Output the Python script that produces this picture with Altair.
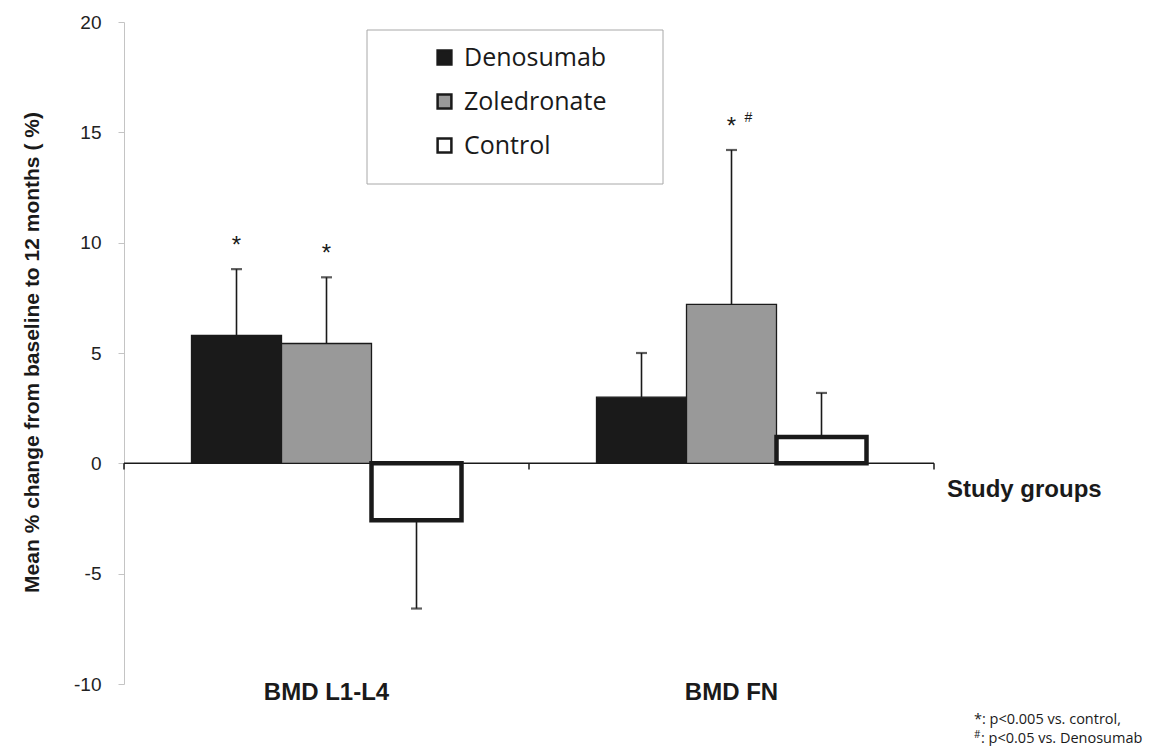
import altair as alt
import pandas as pd

groups = ["BMD L1-L4", "BMD FN"]
series = ["Denosumab", "Zoledronate", "Control"]
mean_l1l4 = [5.8, 5.43, -2.58]
mean_fn = [3.0, 7.2, 1.19]
sd_l1l4 = [3.0, 3.0, 4.0]
sd_fn = [2.0, 7.0, 2.0]
star_l1l4 = ["*", "*", ""]
star_fn = ["", "*", ""]
hash_l1l4 = ["", "", ""]
hash_fn = ["", "#", ""]
fills = ["#1a1a1a", "#999999", "#ffffff"]
y_ticks = [-10, -5, 0, 5, 10, 15, 20]
y_title = "Mean % change from baseline to 12 months ( %)"
x_title = "Study groups"
note1 = "*: p<0.005 vs. control,"
note2 = ": p<0.05 vs. Denosumab"

rows = []
for g, means, sds, stars, hashes in [
    (groups[0], mean_l1l4, sd_l1l4, star_l1l4, hash_l1l4),
    (groups[1], mean_fn, sd_fn, star_fn, hash_fn),
]:
    for s, m, sd, st, h in zip(series, means, sds, stars, hashes):
        end = m + sd if m >= 0 else m - sd
        rows.append(dict(group=g, series=s, mean=m, end=end, star=st, hash=h))
df = pd.DataFrame(rows)

W, H = 810, 662
FONT = "Liberation Sans"

x_enc = alt.X(
    "group:N", sort=groups,
    scale=alt.Scale(paddingInner=0, paddingOuter=0),
    axis=alt.Axis(title=None, domain=False, ticks=False, labelAngle=0,
                  labelFont=FONT, labelFontWeight="bold", labelFontSize=24,
                  labelColor="#1a1a1a", labelBaseline="middle", labelPadding=8),
)
xo_enc = alt.XOffset("series:N", sort=series,
                     scale=alt.Scale(paddingOuter=0.75, paddingInner=0))
y_axis = alt.Axis(values=y_ticks, grid=False, domainColor="#c4c4c4", tickColor="#c4c4c4",
                  tickSize=6, labelFont=FONT, labelFontSize=19, labelColor="#222222",
                  labelPadding=17,
                  labelExpr="datum.value < 0 ? '-' + abs(datum.value) : datum.label",
                  title=y_title, titleFont=FONT, titleFontWeight="bold",
                  titleFontSize=21, titleColor="#1a1a1a", titleAngle=270, titleAlign="center",
                  titleBaseline="middle", titleX=-92, titleY=330)
y_scale = alt.Scale(domain=[-10, 20], nice=False, zero=False)

base = alt.Chart(df)

box = alt.Chart(pd.DataFrame({"b": [0]})).mark_rect(
    fill="white", stroke="#a8a8a8", strokeWidth=1
).encode(x=alt.value(243), x2=alt.value(539), y=alt.value(8), y2=alt.value(162))

err = base.mark_rule(color="#1a1a1a", strokeWidth=1.6).encode(
    x=x_enc, xOffset=xo_enc,
    y=alt.Y("mean:Q", scale=y_scale, axis=y_axis), y2="end:Q")

caps = base.mark_tick(color="#1a1a1a", size=11, thickness=2.2).encode(
    x=x_enc, xOffset=xo_enc, y=alt.Y("end:Q", scale=y_scale, axis=y_axis))

zero = alt.Chart(pd.DataFrame({"b": [0]})).mark_rule(color="#1a1a1a", strokeWidth=1.5).encode(
    x=alt.value(0), x2=alt.value(W), y=alt.datum(0))

cat_ticks = alt.Chart(pd.DataFrame({"group": groups})).mark_rule(
    color="#1a1a1a", strokeWidth=1.5).encode(
    x=alt.X("group:N", sort=groups, bandPosition=0), y=alt.datum(0), y2=alt.datum(-0.28))
end_tick = alt.Chart(pd.DataFrame({"b": [0]})).mark_rule(
    color="#1a1a1a", strokeWidth=1.5).encode(
    x=alt.value(W), y=alt.datum(0), y2=alt.datum(-0.28))

bars = base.mark_bar(stroke="#1a1a1a").encode(
    x=x_enc, xOffset=xo_enc,
    y=alt.Y("mean:Q", scale=y_scale, axis=y_axis),
    y2=alt.datum(0),
    fill=alt.Fill("series:N", sort=series,
                  scale=alt.Scale(domain=series, range=fills),
                  legend=alt.Legend(title=None, orient="none", legendX=308, legendY=23,
                                    symbolType="square", symbolSize=190,
                                    symbolStrokeColor="#1a1a1a", symbolStrokeWidth=2.5,
                                    labelFont="Open Sans", labelFontSize=25,
                                    labelColor="#1a1a1a", rowPadding=18, labelOffset=7,
                                    padding=0, direction="vertical")),
    strokeWidth=alt.condition("datum.series == 'Control'", alt.value(4.5), alt.value(1.3)),
)

stars = base.transform_filter("datum.star != ''").mark_text(
    font=FONT, fontSize=24, color="#1a1a1a", baseline="alphabetic", dy=-16).encode(
    x=x_enc, xOffset=xo_enc, y=alt.Y("end:Q", scale=y_scale, axis=y_axis), text="star:N")

hashes = base.transform_filter("datum.hash != ''").mark_text(
    font=FONT, fontSize=14, color="#1a1a1a", baseline="alphabetic", dy=-28, dx=17).encode(
    x=x_enc, xOffset=xo_enc, y=alt.Y("end:Q", scale=y_scale, axis=y_axis), text="hash:N")

study = alt.Chart(pd.DataFrame({"t": [x_title]})).mark_text(
    font=FONT, fontSize=24, fontWeight="bold", color="#1a1a1a", align="left",
    baseline="middle", dy=27).encode(x=alt.value(W + 13), y=alt.datum(0), text="t:N")

n1 = alt.Chart(pd.DataFrame({"t": [note1]})).mark_text(
    font="Open Sans", fontSize=14.5, color="#1a1a1a", align="left", baseline="middle").encode(
    x=alt.value(850), y=alt.value(H + 36), text="t:N")
n2h = alt.Chart(pd.DataFrame({"t": ["#"]})).mark_text(
    font="Open Sans", fontSize=10, color="#1a1a1a", align="left", baseline="middle").encode(
    x=alt.value(850), y=alt.value(H + 51), text="t:N")
n2 = alt.Chart(pd.DataFrame({"t": [note2]})).mark_text(
    font="Open Sans", fontSize=14.5, color="#1a1a1a", align="left", baseline="middle").encode(
    x=alt.value(857), y=alt.value(H + 55), text="t:N")

chart = alt.layer(
    box, err, zero, cat_ticks, end_tick, bars, caps, stars, hashes, study, n1, n2h, n2
).properties(
    width=W, height=H,
    autosize=alt.AutoSizeParams(type="none"),
    padding={"left": 116, "top": 14, "right": 212, "bottom": 62},
).configure(background="white", view=alt.ViewConfig(strokeWidth=0, stroke="transparent"))

chart.save("out.html", embed_options={"renderer": "svg", "actions": False})
